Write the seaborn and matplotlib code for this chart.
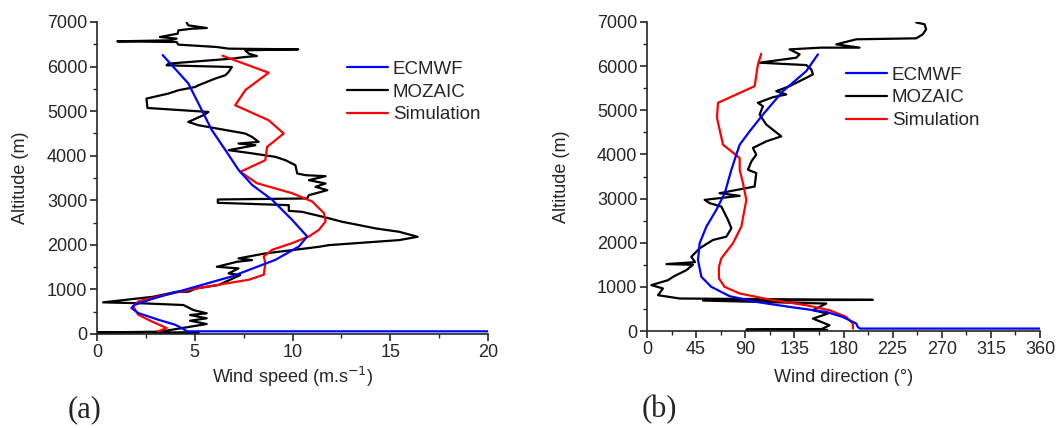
import numpy as np
import pandas as pd
import seaborn as sns
import matplotlib.pyplot as plt
from matplotlib.ticker import MultipleLocator

sns.set_style("ticks")
plt.rcParams['font.family'] = ['Liberation Sans', 'DejaVu Sans']

# ---- (a) wind speed profiles ----
spd_moz = [4.59, 4.67, 5.62, 4.85, 4.16, 4.13, 3.22, 4.07, 3.73, 1.04, 4.07, 4.16, 6.13, 6.73,
           10.29, 7.58, 7.76, 8.18, 7.58, 6.90, 3.65, 3.56, 6.90, 6.73, 6.56, 6.04, 5.19, 5.02,
           4.16, 3.65, 2.53, 2.58, 5.70, 5.44, 4.67, 5.19, 7.58, 7.93, 8.27, 7.24, 8.10, 6.73,
           7.76, 9.13, 9.64, 10.15, 10.24, 10.67, 11.69, 10.84, 11.69, 11.18, 11.78, 10.84, 10.75,
           6.18, 6.18, 9.81, 9.81, 10.49, 11.69, 12.55, 13.41, 14.26, 15.46, 16.40, 15.46, 11.86,
           11.35, 8.61, 7.24, 7.93, 7.16, 6.13, 7.24, 6.73, 7.33, 6.21, 5.10, 4.67, 4.07, 2.88,
           0.31, 2.36, 4.42, 4.93, 5.61, 4.76, 5.61, 4.76, 5.61, 4.59, 3.22, 0.0, 5.2, 3.0]
alt_moz_a = [6985, 6925, 6865, 6850, 6813, 6739, 6663, 6627, 6589, 6566, 6551, 6492, 6439, 6402,
             6387, 6365, 6290, 6237, 6215, 6178, 6066, 6028, 5990, 5878, 5804, 5730, 5580, 5542,
             5468, 5394, 5282, 5071, 4982, 4908, 4758, 4684, 4498, 4422, 4310, 4273, 4236, 4124,
             4064, 3974, 3899, 3787, 3601, 3563, 3541, 3451, 3377, 3302, 3227, 3115, 3041,
             3018, 2943, 2891, 2763, 2741, 2615, 2517, 2443, 2368, 2293, 2181, 2107, 1994,
             1956, 1808, 1696, 1658, 1620, 1508, 1472, 1360, 1322, 1098, 1024, 948, 948, 836,
             710, 688, 650, 538, 464, 426, 352, 298, 224, 150, 52, 35, 30, 20]

spd_ecm = [3.36, 3.82, 4.67, 5.27, 5.87, 6.56, 7.24, 7.93, 8.96, 9.98, 10.75, 10.33, 9.13, 6.90,
           4.50, 2.96, 1.93, 1.76, 2.11, 3.13, 3.99, 4.33, 4.6, 25.0]
alt_ecm_a = [6258, 6034, 5623, 5101, 4578, 4130, 3682, 3346, 3010, 2561, 2188, 1964, 1665, 1292,
             993, 807, 657, 583, 470, 321, 209, 134, 60, 60]

spd_sim = [6.42, 8.78, 7.59, 7.07, 8.78, 9.55, 8.70, 8.61, 7.33, 8.18, 9.98, 11.01, 11.61, 11.69,
           11.35, 10.84, 9.98, 8.96, 8.53, 8.61, 8.53, 7.76, 6.73, 5.19, 3.48, 2.11, 1.85, 2.11,
           2.79, 3.56, 3.13]
alt_sim_a = [6243, 5862, 5474, 5132, 4796, 4498, 4198, 3899, 3638, 3383, 3159, 2972, 2711, 2524,
             2337, 2188, 2039, 1889, 1740, 1591, 1329, 1217, 1143, 1031, 881, 732, 620, 433,
             284, 134, 60]

# ---- (b) wind direction profiles ----
dir_moz = [246.6, 254.2, 255.7, 252.6, 246.6, 191.7, 173.4, 194.7, 159.6, 130.6, 139.8, 136.7,
           103.2, 145.9, 150.5, 152.0, 139.8, 130.6, 118.4, 127.6, 115.3, 101.6, 106.2, 103.2,
           109.3, 123.0, 109.3, 97.0, 100.1, 95.6, 92.5, 100.1, 98.6, 66.5, 84.9, 52.8, 57.4,
           68.1, 74.2, 77.3, 72.7, 60.4, 48.2, 40.6, 44.0, 17.8, 42.1, 36.1, 23.8, 19.3, 4.0,
           14.6, 10.1, 30.0, 206.9, 51.3, 164.2, 152.0, 165.7, 152.0, 167.2, 160.0, 91.0, 165.0]
alt_moz_b = [6990, 6949, 6835, 6721, 6630, 6608, 6494, 6419, 6419, 6380, 6267, 6191,
             6078, 6024, 5926, 5812, 5660, 5546, 5433, 5358, 5296, 5169, 5092, 4903,
             4676, 4410, 4296, 4146, 3994, 3841, 3653, 3578, 3273, 3122, 3062, 2971, 2896,
             2819, 2516, 2328, 2137, 2062, 1873, 1682, 1560, 1516, 1500, 1380, 1227, 1152, 1039,
             964, 811, 736, 705, 690, 622, 470, 395, 281, 130, 45, 30, 25]

dir_ecm = [156.6, 145.9, 124.5, 106.2, 94.0, 84.9, 81.8, 77.3, 71.2, 63.5, 54.4, 48.2, 46.7, 49.8,
           58.9, 75.7, 100.1, 130.6, 164.2, 179.4, 191.7, 193.1, 195.0, 400.0]
alt_ecm_b = [6267, 5887, 5433, 4903, 4523, 4221, 3994, 3653, 3123, 2744, 2364, 1987, 1607, 1227,
             1000, 789, 659, 546, 432, 318, 168, 91, 55, 55]

dir_sim = [104.7, 101.6, 98.6, 65.0, 64.1, 69.6, 84.9, 84.9, 87.9, 91.0, 86.4, 78.7, 68.1, 65.9,
           65.9, 71.1, 84.9, 115.3, 145.9, 167.2, 182.5, 188.6, 188.6]
alt_sim_b = [6282, 6039, 5546, 5169, 4828, 4221, 3919, 3653, 3350, 2971, 2364, 1987, 1646, 1455,
             1191, 1000, 850, 698, 584, 470, 318, 168, 55]

fig = plt.figure(figsize=(10.59, 4.28), dpi=100)
ax1 = fig.add_axes([97 / 1059, 1 - 334 / 428, 391 / 1059, 312 / 428])
ax2 = fig.add_axes([647 / 1059, 1 - 331 / 428, 393 / 1059, 309 / 428])


def draw(ax, xm, ym, xe, ye, xs, ys):
    sns.lineplot(x=xm, y=ym, sort=False, estimator=None, color='black', lw=1.6,
                 label='MOZAIC', ax=ax)
    sns.lineplot(x=xs, y=ys, sort=False, estimator=None, color='#ff0000', lw=1.6,
                 label='Simulation', ax=ax)
    sns.lineplot(x=xe, y=ye, sort=False, estimator=None, color='#0000ff', lw=1.6,
                 label='ECMWF', ax=ax)
    h, l = ax.get_legend_handles_labels()
    order = [l.index('ECMWF'), l.index('MOZAIC'), l.index('Simulation')]
    return [h[i] for i in order], [l[i] for i in order]


h1, l1 = draw(ax1, spd_moz, alt_moz_a, spd_ecm, alt_ecm_a, spd_sim, alt_sim_a)
h2, l2 = draw(ax2, dir_moz, alt_moz_b, dir_ecm, alt_ecm_b, dir_sim, alt_sim_b)

ax1.legend(h1, l1, loc='upper left', bbox_to_anchor=(0.62, 0.90), frameon=False,
           fontsize=13.5, handlelength=2.2, handletextpad=0.25, labelspacing=0.3,
           borderaxespad=0)
ax2.legend(h2, l2, loc='upper left', bbox_to_anchor=(0.487, 0.88), frameon=False,
           fontsize=13.5, handlelength=2.2, handletextpad=0.25, labelspacing=0.3,
           borderaxespad=0)

ax1.set_xlim(0, 20)
ax2.set_xlim(0, 360)
ax1.xaxis.set_major_locator(MultipleLocator(5))
ax1.xaxis.set_minor_locator(MultipleLocator(2.5))
ax2.xaxis.set_major_locator(MultipleLocator(45))
ax2.xaxis.set_minor_locator(MultipleLocator(22.5))
ax1.set_xlabel('Wind speed (m.s$^{-1}$)', fontsize=13, labelpad=3)
ax2.set_xlabel('Wind direction (°)', fontsize=13, labelpad=8)

for ax in (ax1, ax2):
    ax.set_ylim(0, 7000)
    ax.yaxis.set_major_locator(MultipleLocator(1000))
    ax.yaxis.set_minor_locator(MultipleLocator(500))
    ax.tick_params(which='major', length=5, width=1.2, labelsize=13, direction='out', pad=2)
    ax.tick_params(which='minor', length=3, width=1.0, direction='out')
    for s in ('top', 'right'):
        ax.spines[s].set_visible(False)
    for s in ('left', 'bottom'):
        ax.spines[s].set_linewidth(1.2)

ax1.set_ylabel('Altitude (m)', fontsize=13, labelpad=13)
ax2.set_ylabel('Altitude (m)', fontsize=13, labelpad=19)

fig.text(68 / 1059, 1 - 410 / 428, '(a)', fontsize=22, family='Liberation Serif', va='center')
fig.text(642 / 1059, 1 - 410 / 428, '(b)', fontsize=22, family='Liberation Serif', va='center')

fig.savefig('out.png', dpi=100)
